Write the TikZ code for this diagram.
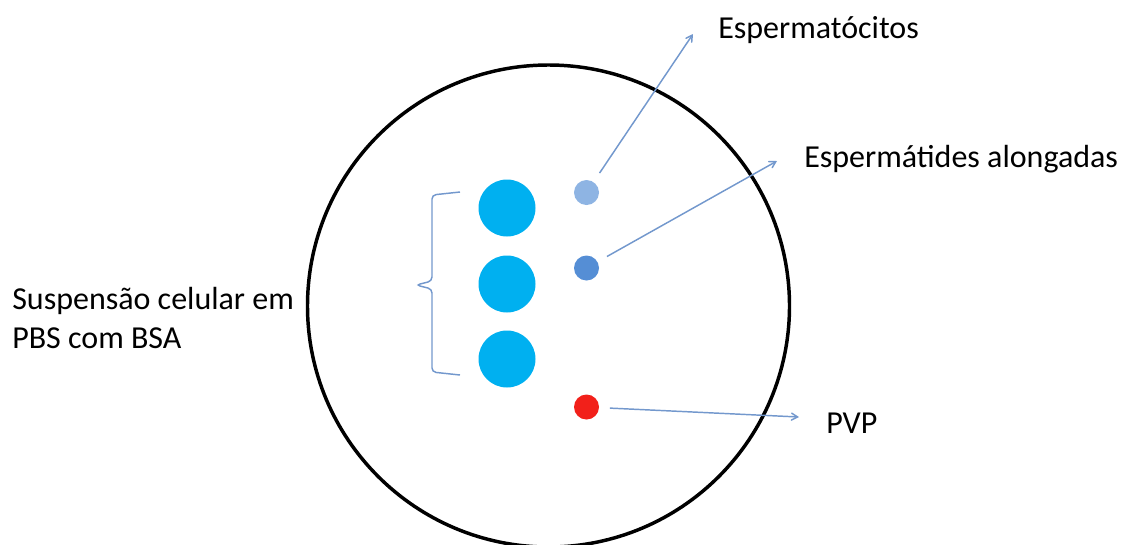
\documentclass[tikz,border=0pt]{standalone}
\usepackage{fontspec}
\setmainfont{Carlito}
\usepackage{xcolor}
\usetikzlibrary{positioning,arrows}
\definecolor{celblue}{HTML}{00B0F0}
\definecolor{dotlight}{HTML}{8EB4E3}
\definecolor{dotmid}{HTML}{558ED5}
\definecolor{dotred}{RGB}{242,32,26}
\definecolor{linkblue}{RGB}{115,152,205}
\tikzset{
  celula/.style={circle,fill=celblue,minimum size=42.75pt,inner sep=0pt},
  ponto/.style={circle,minimum size=18.75pt,inner sep=0pt},
  seta/.style={->,>=angle 60,draw=linkblue,line width=1.1pt,shorten <=8pt},
  rotulo/.style={font=\fontsize{24}{29.25}\selectfont,inner sep=0pt,anchor=base west}
}

\begin{document}
\begin{tikzpicture}[x=0.75pt,y=-0.75pt]
\useasboundingbox (0,0) rectangle (1122,544);
\node[circle,draw=black,line width=2.6pt,minimum size=361.5pt,inner sep=0pt] (dish) at (548.5,306) {};
% cells in suspension
\node[celula] (cel1) at (507,208) {};
\node[celula] (cel2) at (507,284) {};
\node[celula] (cel3) at (507,359) {};
\node[ponto,fill=dotlight] (esp1) at (586.5,192.5) {};
\node[ponto,fill=dotmid] (esp2) at (586.5,268) {};
\node[ponto,fill=dotred] (pvp) at (586.5,407) {};
% brace
\draw[linkblue,line width=1.1pt,rounded corners=3pt] (460,192) -- (432,195) -- (432,281) -- (416,285) -- (432,289) -- (432,372) -- (460,375);
\node[rotulo,align=left] (susp) at (12,348) {Suspensão celular em\\PBS com BSA}; %label
\node[rotulo] (lab1) at (718,38) {Espermatócitos}; %label
\node[rotulo] (lab2) at (804,167) {Espermátides alongadas}; %label
\node[rotulo] (lab3) at (826,433) {PVP}; %label
\coordinate (tip1) at (693,34);
\coordinate (tip2) at (777,161);
\coordinate (tip3) at (799,417);
\draw[seta] (esp1) -- (tip1);
\draw[seta] (esp2) -- (tip2);
\draw[seta] (pvp) -- (tip3);
\end{tikzpicture}
\end{document}
